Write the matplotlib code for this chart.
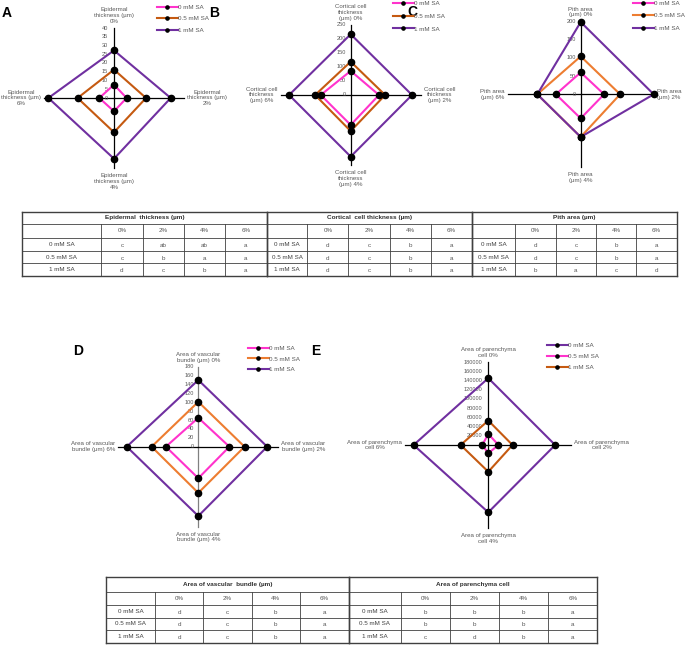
import numpy as np
import matplotlib.pyplot as plt
from matplotlib.lines import Line2D

W, H = 685, 647
plt.rcParams['font.family'] = ['Liberation Sans', 'DejaVu Sans']

PINK = '#FF33CC'
ORANGE_DK = '#C55A11'
ORANGE = '#ED7D31'
PURPLE = '#7030A0'
GREY = '#595959'

levels = ['0 mM SA', '0.5 mM SA', '1 mM SA']
pct = ['0%', '2%', '4%', '6%']

# radar values, order 0%, 2%, 4%, 6%
epi_0 = [7.6, 7.2, 7.6, 8.4]
epi_05 = [16.2, 18.3, 19.6, 20.8]
epi_1 = [27.2, 32.4, 34.7, 37.5]

cort_0 = [86, 101, 107, 107]
cort_05 = [119, 123, 129, 127]
cort_1 = [217, 219, 220, 220]

pith_0 = [60, 64, 66, 68]
pith_05 = [104, 108, 117, 119]
pith_1 = [198, 200, 117, 119]

vasc_0 = [65, 70, 71, 73]
vasc_05 = [101, 104, 104, 105]
vasc_1 = [150, 155, 156, 161]

par_0 = [145000, 145000, 146000, 162000]
par_05 = [24000, 22000, 18000, 13000]
par_1 = [53000, 52500, 58000, 60000]

# significance letters
epi_letters = [['c', 'ab', 'ab', 'a'], ['c', 'b', 'a', 'a'], ['d', 'c', 'b', 'a']]
cort_letters = [['d', 'c', 'b', 'a'], ['d', 'c', 'b', 'a'], ['d', 'c', 'b', 'a']]
pith_letters = [['d', 'c', 'b', 'a'], ['d', 'c', 'b', 'a'], ['b', 'a', 'c', 'd']]
vasc_letters = [['d', 'c', 'b', 'a'], ['d', 'c', 'b', 'a'], ['d', 'c', 'b', 'a']]
par_letters = [['b', 'b', 'b', 'a'], ['b', 'b', 'b', 'a'], ['c', 'd', 'b', 'a']]

fig = plt.figure(figsize=(W / 100, H / 100), dpi=100)
bg = fig.add_axes([0, 0, 1, 1])
bg.set_xlim(0, W)
bg.set_ylim(H, 0)
bg.axis('off')


def radar(cx, cy, length, vmax, ticks, series, colors, axis_labels, legend_xy, spacing,
          tick_gap=5, vcolor='black'):
    h = length + 8
    ax = fig.add_axes([(cx - h) / W, 1 - (cy + h) / H, 2 * h / W, 2 * h / H])
    lim = vmax * h / length
    ax.set_xlim(-lim, lim)
    ax.set_ylim(-lim, lim)
    ax.axis('off')
    dirs = [(0, 1), (1, 0), (0, -1), (-1, 0)]
    for k, (dx, dy) in enumerate(dirs):
        ax.plot([0, dx * vmax], [0, dy * vmax], color=vcolor if dx == 0 else 'black',
                lw=0.9, zorder=1)
    for t in ticks:
        ax.annotate(str(t), (0, t), xytext=(-tick_gap, 0), textcoords='offset pixels',
                    ha='right', va='center', fontsize=4.1, color=GREY, zorder=1)
    for vals, c in zip(series, colors):
        xs = [dx * v for (dx, dy), v in zip(dirs, vals)]
        ys = [dy * v for (dx, dy), v in zip(dirs, vals)]
        ax.plot(xs + xs[:1], ys + ys[:1], color=c, lw=1.5, zorder=3)
        ax.plot(xs, ys, 'o', color='black', ms=4.5, zorder=4)
    # axis titles
    place = [((0, 4), 'center', 'bottom'), ((3, 0), 'left', 'center'),
             ((0, -5), 'center', 'top'), ((-3, 0), 'right', 'center')]
    for (dx, dy), lab, (off, ha, va) in zip(dirs, axis_labels, place):
        ax.annotate(lab, (dx * vmax, dy * vmax), xytext=off, textcoords='offset pixels',
                    ha=ha, va=va, multialignment='center', fontsize=4.4, color=GREY,
                    linespacing=1.2)
    handles = [Line2D([], [], color=c, lw=1.5, marker='o', ms=2.3, mfc='black', mec='black')
               for c in colors]
    fig.legend(handles, levels, loc='upper left',
               bbox_to_anchor=(legend_xy[0] / W, 1 - legend_xy[1] / H),
               frameon=False, fontsize=4.5, handlelength=3.3, handletextpad=0.1,
               labelspacing=spacing, borderpad=0, borderaxespad=0, numpoints=1,
               labelcolor=GREY)
    return ax


def table(rows_y, sections, header_row, row_names):
    y0, y1 = rows_y[0], rows_y[-1]
    x_left = sections[0][1][0]
    x_right = sections[-1][1][-1]
    dark = '#404040'
    bg.plot([x_left, x_right], [y0, y0], color=dark, lw=1.0)
    bg.plot([x_left, x_right], [y1, y1], color=dark, lw=1.0)
    for yy in rows_y[1:-1]:
        bg.plot([x_left, x_right], [yy, yy], color=dark, lw=0.6)
    for title, xs, letters in sections:
        bg.plot([xs[0], xs[0]], [y0, y1], color=dark, lw=1.0)
        bg.plot([xs[-1], xs[-1]], [y0, y1], color=dark, lw=1.0)
        for xx in xs[1:-1]:
            bg.plot([xx, xx], [rows_y[1], y1], color=dark, lw=0.6)
        bg.text((xs[0] + xs[-1]) / 2, (rows_y[0] + rows_y[1]) / 2, title,
                ha='center', va='center', fontsize=4.6, fontweight='bold', color='#303030')
        for j, p in enumerate(header_row):
            bg.text((xs[j + 1] + xs[j + 2]) / 2, (rows_y[1] + rows_y[2]) / 2, p,
                    ha='center', va='center', fontsize=4.5, color=GREY)
        for i, name in enumerate(row_names):
            yc = (rows_y[i + 2] + rows_y[i + 3]) / 2
            bg.text((xs[0] + xs[1]) / 2, yc, name, ha='center', va='center',
                    fontsize=4.5, color='#404040')
            for j, let in enumerate(letters[i]):
                bg.text((xs[j + 1] + xs[j + 2]) / 2, yc + 1, let, ha='center', va='center',
                        fontsize=4.5, color=GREY)


# A
lab = 'Epidermal\nthickness (µm)\n'
radar(114, 98, 70, 40, range(0, 41, 5), [epi_0, epi_05, epi_1],
      [PINK, ORANGE_DK, PURPLE], [lab + p for p in pct], (157, 4.5), 1.0, tick_gap=6)
# B
lab = 'Cortical cell\nthickness\n(µm) '
radar(350.7, 95, 70, 250, range(0, 251, 50), [cort_0, cort_05, cort_1],
      [PINK, ORANGE_DK, PURPLE], [lab + p for p in pct], (393, 0.5), 1.2)
# C
lab = 'Pith area\n(µm) '
radar(580.7, 94.3, 73, 200, range(0, 201, 50), [pith_0, pith_05, pith_1],
      [PINK, ORANGE, PURPLE], [lab + p for p in pct], (633, 0.5), 1.15)
# D
lab = 'Area of vascular\nbundle (µm) '
radar(198.3, 446.7, 80, 180, range(0, 181, 20), [vasc_0, vasc_05, vasc_1],
      [PINK, ORANGE, PURPLE], [lab + p for p in pct], (248, 345.5), 0.85, tick_gap=4,
      vcolor='#808080')
# E
lab = 'Area of parenchyma\ncell '
radar(488.3, 445, 83, 180000, range(0, 180001, 20000), [par_0, par_05, par_1],
      [PURPLE, PINK, ORANGE_DK], [lab + p for p in pct], (547, 343), 0.9, tick_gap=6)

# panel letters
for x, y, s in [(1.5, 13, 'A'), (209, 13, 'B'), (407, 12, 'C'), (73, 351, 'D'), (311, 351, 'E')]:
    bg.text(x, y, s, ha='left', va='center', fontsize=10, fontweight='bold', color='black')

# tables
table([211.7, 224.3, 237.7, 251, 263.3, 276],
      [('Epidermal  thickness (µm)', [22.3, 101, 142.7, 184.3, 225, 266.7], epi_letters),
       ('Cortical  cell thickness (µm)', [266.7, 307.5, 348.3, 390, 430.7, 471.7], cort_letters),
       ('Pith area (µm)', [471.7, 515, 556, 596, 636, 677], pith_letters)],
      pct, levels)
table([577.3, 591.7, 605, 617.5, 630, 642.5],
      [('Area of vascular  bundle (µm)', [106, 155, 203.3, 251.7, 300, 349], vasc_letters),
       ('Area of parenchyma cell', [349, 400.7, 450, 499, 548.3, 597.3], par_letters)],
      pct, levels)

fig.savefig('out.png', dpi=100)
